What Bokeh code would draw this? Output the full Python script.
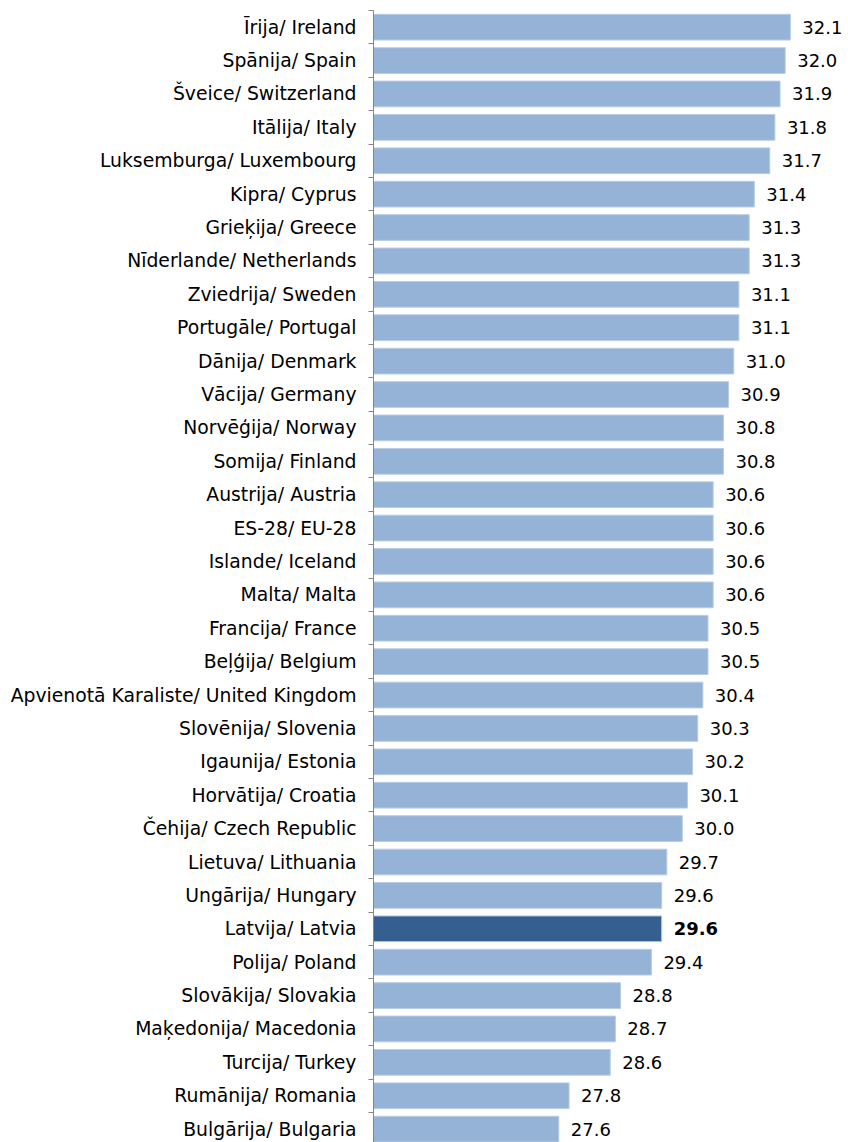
from bokeh.plotting import figure
from bokeh.models import ColumnDataSource, Range1d, LinearAxis, FixedTicker
from bokeh.core.properties import value
from bokeh.embed import file_html
from bokeh.resources import INLINE

labels = ["Īrija/ Ireland", "Spānija/ Spain", "Šveice/ Switzerland", "Itālija/ Italy",
          "Luksemburga/ Luxembourg", "Kipra/ Cyprus", "Grieķija/ Greece", "Nīderlande/ Netherlands",
          "Zviedrija/ Sweden", "Portugāle/ Portugal", "Dānija/ Denmark", "Vācija/ Germany",
          "Norvēģija/ Norway", "Somija/ Finland", "Austrija/ Austria", "ES-28/ EU-28",
          "Islande/ Iceland", "Malta/ Malta", "Francija/ France", "Beļģija/ Belgium",
          "Apvienotā Karaliste/ United Kingdom", "Slovēnija/ Slovenia", "Igaunija/ Estonia",
          "Horvātija/ Croatia", "Čehija/ Czech Republic", "Lietuva/ Lithuania", "Ungārija/ Hungary",
          "Latvija/ Latvia", "Polija/ Poland", "Slovākija/ Slovakia", "Maķedonija/ Macedonia",
          "Turcija/ Turkey", "Rumānija/ Romania", "Bulgārija/ Bulgaria"]
values = [32.1, 32.0, 31.9, 31.8, 31.7, 31.4, 31.3, 31.3, 31.1, 31.1, 31.0, 30.9, 30.8, 30.8,
          30.6, 30.6, 30.6, 30.6, 30.5, 30.5, 30.4, 30.3, 30.2, 30.1, 30.0, 29.7, 29.6, 29.6,
          29.4, 28.8, 28.7, 28.6, 27.8, 27.6]
highlight = "Latvija/ Latvia"

n = len(labels)
ypos = [i + 0.5 for i in range(n)]
colors = ["#355E91" if l == highlight else "#95B3D7" for l in labels]
styles = ["bold" if l == highlight else "normal" for l in labels]
texts = ["%.1f" % v for v in values]

src = ColumnDataSource(dict(y=ypos, v=values, color=colors, fstyle=styles, t=texts,
                            left=[24.0] * n))

FONT = "DejaVu Sans"

p = figure(width=848, height=1142, output_backend="svg", toolbar_location=None,
           x_range=Range1d(24.0, 33.23), y_range=Range1d(n - 0.1, 0),
           min_border_left=373, min_border_top=10, min_border_bottom=0, min_border_right=0,
           x_axis_location=None, y_axis_location=None)
p.outline_line_color = None
p.xgrid.visible = False
p.ygrid.visible = False

p.hbar(y="y", left="left", right="v", height=0.77, fill_color="color",
       line_color="#b8cce4", line_width=1, source=src)

p.text(x="v", y="y", text="t", x_offset=12, text_align="left", text_baseline="middle",
       text_font=value(FONT), text_font_size="18px", text_font_style="fstyle",
       text_color="#000000", source=src)

# axis line with boundary ticks
bounds = list(range(n + 1))
tick_axis = LinearAxis(ticker=FixedTicker(ticks=bounds),
                       major_label_overrides={b: "" for b in bounds}, major_label_standoff=0,
                       major_tick_in=0, major_tick_out=5, minor_tick_line_color=None,
                       axis_line_color="#868686", major_tick_line_color="#868686")
p.add_layout(tick_axis, "left")

# category labels
overrides = {y: l for y, l in zip(ypos, labels)}
label_axis = LinearAxis(ticker=FixedTicker(ticks=ypos), major_label_overrides=overrides,
                        axis_line_color=None, major_tick_line_color=None,
                        minor_tick_line_color=None, major_label_standoff=6,
                        major_label_text_font=FONT, major_label_text_font_size="18.8px",
                        major_label_text_color="#000000")
p.add_layout(label_axis, "left")

open("out.html", "w").write(file_html(p, INLINE))
